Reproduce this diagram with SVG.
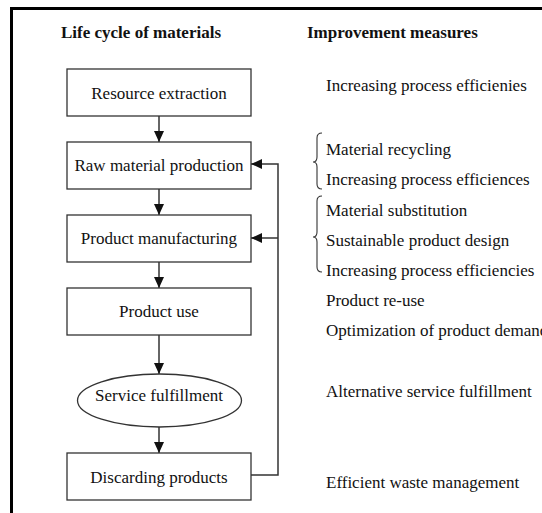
<svg xmlns="http://www.w3.org/2000/svg" width="542" height="513" viewBox="0 0 542 513">
<style>
.t{font-family:'Liberation Serif','Times New Roman',Times,'DejaVu Serif',serif;font-size:17px;fill:#111}
.h{font-weight:bold}
.c{text-anchor:middle}
.box{fill:#fff;stroke:#333;stroke-width:1.3}
.ln{fill:none;stroke:#333;stroke-width:1.5}
.br{fill:none;stroke:#333;stroke-width:1.1}
</style>
<defs>
<marker id="ah" markerUnits="userSpaceOnUse" markerWidth="12" markerHeight="12" refX="11" refY="5" orient="auto">
<path d="M0,0 L11,5 L0,10 Z" fill="#111"/>
</marker>
</defs>
<rect width="542" height="513" fill="#fff"/>
<path d="M11.5,513 V8.5 H542" fill="none" stroke="#000" stroke-width="3"/>
<g id="headings" class="t" font-family="Liberation Serif, serif">
<text class="h" x="61" y="38">Life cycle of materials</text>
<text class="h" x="307" y="38">Improvement measures</text>
</g>
<g id="connectors">
<line class="ln" x1="159" y1="116" x2="159" y2="142" marker-end="url(#ah)"/>
<line class="ln" x1="159" y1="189" x2="159" y2="215" marker-end="url(#ah)"/>
<line class="ln" x1="159" y1="262" x2="159" y2="288" marker-end="url(#ah)"/>
<line class="ln" x1="159" y1="335" x2="159" y2="374" marker-end="url(#ah)"/>
<line class="ln" x1="159" y1="427" x2="159" y2="453" marker-end="url(#ah)"/>
<path class="ln" d="M251,475 H278 V164 H251" marker-end="url(#ah)"/>
<line class="ln" x1="278" y1="238" x2="251" y2="238" marker-end="url(#ah)"/>
</g>
<g id="n-resource" class="t">
<rect class="box" x="67" y="69" width="184" height="47"/>
<text class="c" x="159" y="99">Resource extraction</text>
</g>
<g id="n-raw" class="t">
<rect class="box" x="67" y="142" width="184" height="47"/>
<text class="c" x="159" y="171">Raw material production</text>
</g>
<g id="n-manufacturing" class="t">
<rect class="box" x="67" y="215" width="184" height="47"/>
<text class="c" x="159" y="244">Product manufacturing</text>
</g>
<g id="n-use" class="t">
<rect class="box" x="67" y="288" width="184" height="47"/>
<text class="c" x="159" y="317">Product use</text>
</g>
<g id="n-service" class="t">
<ellipse class="box" cx="159.5" cy="400.5" rx="82" ry="26.5"/>
<text class="c" x="159" y="401">Service fulfillment</text>
</g>
<g id="n-discarding" class="t">
<rect class="box" x="67" y="453" width="184" height="47"/>
<text class="c" x="159" y="483">Discarding products</text>
</g>
<g id="measures" class="t">
<path class="br" d="M322,133 Q317,133 317,138 V157 Q317,162 313,162 Q317,162 317,167 V184 Q317,189 322,189"/>
<path class="br" d="M322,196 Q317,196 317,201 V232 Q317,237 313,237 Q317,237 317,242 V267 Q317,272 322,272"/>
<text x="326" y="91">Increasing process efficienies</text>
<text x="326" y="155">Material recycling</text>
<text x="326" y="185">Increasing process efficiences</text>
<text x="326" y="216">Material substitution</text>
<text x="326" y="246">Sustainable product design</text>
<text x="326" y="276">Increasing process efficiencies</text>
<text x="326" y="306">Product re-use</text>
<text x="326" y="336">Optimization of product demand</text>
<text x="326" y="397">Alternative service fulfillment</text>
<text x="326" y="488">Efficient waste management</text>
</g>
</svg>
